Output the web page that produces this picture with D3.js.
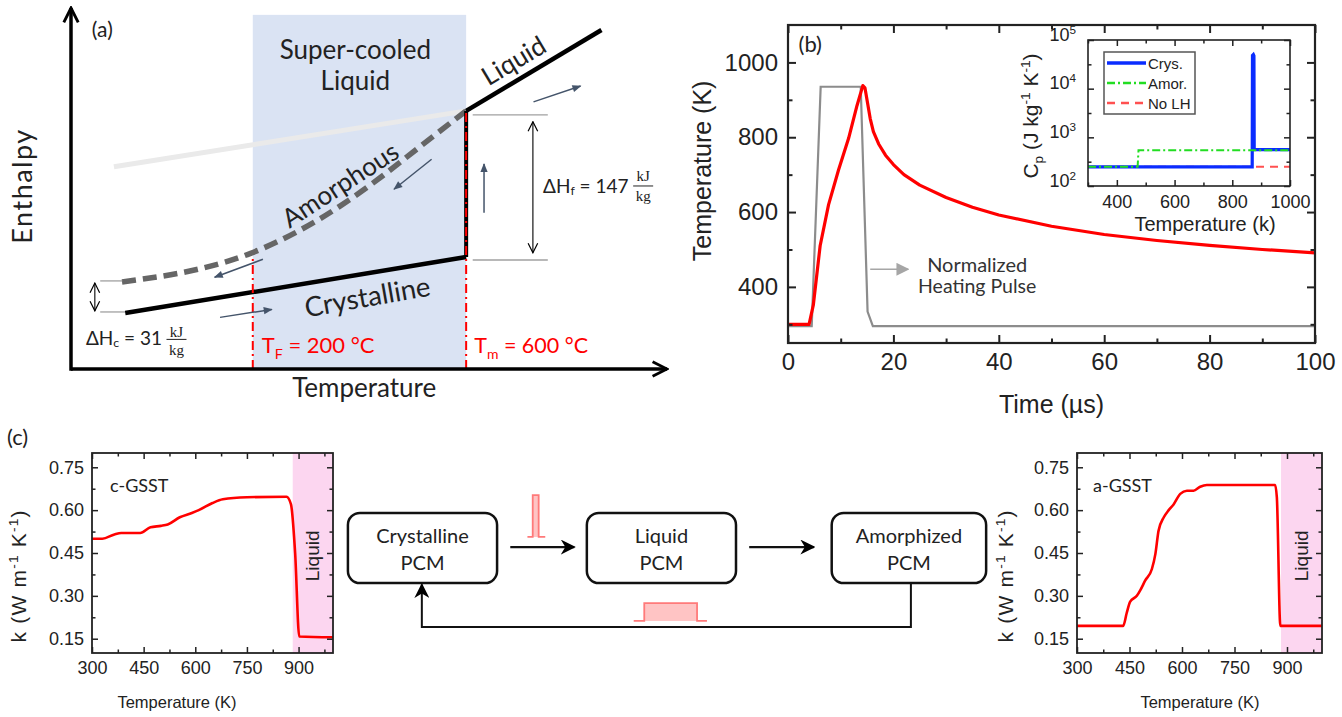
<!DOCTYPE html>
<html>
<head>
<meta charset="utf-8">
<script src="https://cdn.jsdelivr.net/npm/d3@7/dist/d3.min.js"></script>
<style>
  body { margin: 0; background: #fff; }
  svg { display: block; }
</style>
</head>
<body>
<svg id="fig" width="1342" height="717"></svg>
<script>
// ---- (a) schematic enthalpy curves, axis units 0-100 ----
const amorphT = [8.56, 14.93, 21.64, 30.03, 38.42, 45.13, 51.85, 58.56, 66.28];
const amorphH = [24.10, 25.62, 27.78, 31.97, 38.45, 45.12, 52.96, 61.61, 71.47];
const crystT = [9.1, 66.3];
const crystH = [15.5, 31.0];
const liquidT = [66.3, 89.0];
const liquidH = [71.5, 93.9];
const glassT = [7.2, 66.3];
const glassH = [56.0, 71.5];
const meltT = [66.3, 66.3];
const meltH = [31.0, 71.5];
const tFreeze = 30.5, tMelt = 66.3, shadeTop = 98.1;
// small direction arrows [t1, h1, t2, h2]
const flowArrows = [[60.5, 58.1, 54.2, 49.8], [32.2, 30.4, 24.1, 25.4], [25.0, 14.3, 33.7, 16.5],
  [69.3, 43.3, 69.3, 56.8], [77.6, 74.0, 85.5, 78.4]];

// ---- (b) temperature response (K) vs time (us) ----
const tempTime = [0, 4, 4.8, 6.1, 7.7, 9.6, 11.5, 13.1, 14.2, 14.6, 15.6, 16.2, 17.2, 18.5, 20, 22, 25, 30, 35, 40, 50, 60, 70, 80, 90, 100];
const tempK = [300, 300, 351, 510, 620, 713, 797, 885, 938, 932, 850, 815, 782, 752, 727, 700, 672, 639, 613, 592, 562, 540, 524, 511, 500, 491];
const pulseTime = [0, 4.5, 6.2, 13.8, 15.1, 16.1, 100];
const pulseK = [295, 295, 935, 935, 334, 295, 295];

// inset: heat capacity (J/kg/K) vs temperature (K)
const crysT = [300, 869, 870, 873, 875, 876, 1000];
const crysCp = [248, 248, 48000, 50000, 47000, 560, 560];
const amorT = [300, 472, 475, 1000];
const amorCp = [248, 248, 545, 545];
const noLhT = [300, 1000];
const noLhCp = [248, 248];
const insetLegend = ["Crys.", "Amor.", "No LH"];

// ---- (c) thermal conductivity (W/m/K) vs temperature (K) ----
const cTemp = [300, 330, 365, 385, 440, 470, 500, 520, 555, 590, 610, 650, 680, 750, 865, 878, 890, 902, 1000];
const cK = [0.50, 0.50, 0.515, 0.52, 0.52, 0.54, 0.545, 0.55, 0.575, 0.59, 0.60, 0.625, 0.638, 0.645, 0.647, 0.62, 0.45, 0.158, 0.155];
const aTemp = [300, 432, 442, 452, 471, 481, 495, 514, 524, 533, 548, 562, 576, 595, 614, 633, 652, 671, 866, 871, 881, 1000];
const aK = [0.195, 0.195, 0.24, 0.28, 0.30, 0.32, 0.354, 0.394, 0.447, 0.528, 0.575, 0.60, 0.62, 0.657, 0.668, 0.668, 0.682, 0.688, 0.688, 0.645, 0.195, 0.195];
const liquidFrom = 883;

// flow diagram
const stateNames = [["Crystalline", "PCM"], ["Liquid", "PCM"], ["Amorphized", "PCM"]];
const stateLeft = [1.2, 37.4, 74.5];
const stateRight = [23.8, 60.0, 97.9];

const svg = d3.select("#fig");
const ARIAL = "'Liberation Sans', Arial, sans-serif";
const CAL = "Lato, 'Open Sans', sans-serif";

const defs = svg.append("defs");
function marker(id, path, color, w, h, o = {}) {
  defs.append("marker").attr("id", id).attr("viewBox", "0 0 10 10")
    .attr("refX", o.refX ?? 9).attr("refY", 5)
    .attr("markerWidth", w).attr("markerHeight", h)
    .attr("markerUnits", "userSpaceOnUse")
    .attr("orient", o.orient || "auto")
    .append("path").attr("d", path)
    .attr("fill", o.open ? "none" : color)
    .attr("stroke", o.open ? color : "none")
    .attr("stroke-width", o.sw || 0);
}
marker("axisHead", "M1,1L9,5L1,9", "#000", 18, 18, { open: true, sw: 1.6 });
marker("dbl", "M1,1L9,5L1,9", "#000", 12, 12, { open: true, sw: 1.0, orient: "auto-start-reverse" });
marker("slate", "M0,1L10,5L0,9z", "#44546a", 11, 9);
marker("grayHead", "M0,0L10,5L0,10z", "#a6a6a6", 13, 13);
marker("flow", "M0,0L10,5L0,10L3,5z", "#000", 15, 15);

// text with sub/superscripts; parts = [[str, kind]], kind 1 sup, -1 sub
function rich(sel, parts, fs) {
  let shift = 0;
  parts.forEach(([t, k]) => {
    const target = k === 1 ? -0.38 * fs : k === -1 ? 0.25 * fs : 0;
    sel.append("tspan").attr("dy", target - shift).attr("font-size", k ? fs * 0.65 : fs).text(t);
    shift = target;
  });
  return sel;
}

// boxed frame with inward ticks on all four sides
function frame(g, x, y, o) {
  const [x0, x1] = x.range(), [y0, y1] = y.range();
  const col = "#222";
  const none = () => "";
  function ax(fn, tr, scale, vals, len, fmt) {
    const a = g.append("g").attr("transform", tr)
      .call(fn(scale).tickValues(vals).tickSize(-len).tickPadding(o.pad).tickFormat(fmt));
    a.select(".domain").remove();
    a.selectAll(".tick line").attr("stroke", col).attr("stroke-width", o.tw);
    a.selectAll(".tick text").attr("font-family", ARIAL).attr("font-size", o.fs).attr("fill", col);
    return a;
  }
  const bottom = ax(d3.axisBottom, `translate(0,${y0})`, x, o.xMajor, o.major, o.xFmt);
  ax(d3.axisBottom, `translate(0,${y0})`, x, o.xMinor, o.minor, none);
  ax(d3.axisTop, `translate(0,${y1})`, x, o.xMajor, o.major, none);
  ax(d3.axisTop, `translate(0,${y1})`, x, o.xMinor, o.minor, none);
  const left = ax(d3.axisLeft, `translate(${x0},0)`, y, o.yMajor, o.major, o.yFmt);
  ax(d3.axisLeft, `translate(${x0},0)`, y, o.yMinor, o.minor, none);
  ax(d3.axisRight, `translate(${x1},0)`, y, o.yMajor, o.major, none);
  ax(d3.axisRight, `translate(${x1},0)`, y, o.yMinor, o.minor, none);
  g.append("rect").attr("x", x0).attr("y", y1).attr("width", x1 - x0).attr("height", y0 - y1)
    .attr("fill", "none").attr("stroke", col).attr("stroke-width", o.sw);
  return { bottom, left };
}

// ================= panel (a) =================
const xA = d3.scaleLinear([0, 100], [71, 667]);
const yA = d3.scaleLinear([0, 100], [369, 8]);
const gA = svg.append("g");
const lineA = d3.line().x(d => xA(d[0])).y(d => yA(d[1]));

gA.append("rect").attr("x", xA(tFreeze)).attr("y", yA(shadeTop))
  .attr("width", xA(tMelt) - xA(tFreeze)).attr("height", yA(0) - yA(shadeTop))
  .attr("fill", "#dae3f3");

gA.append("path").attr("d", lineA(d3.zip(glassT, glassH)))
  .attr("stroke", "#eaeaea").attr("stroke-width", 5).attr("fill", "none");

gA.append("path").attr("d", d3.line().x(d => xA(d[0])).y(d => yA(d[1])).curve(d3.curveNatural)(d3.zip(amorphT, amorphH)))
  .attr("stroke", "#666").attr("stroke-width", 5.5).attr("stroke-dasharray", "14 7").attr("fill", "none");

// reference lines for the latent heats
[[67.4, 80.0, 70.4], [67.4, 80.0, 30.2], [4.9, 8.6, 24.4], [4.9, 9.1, 15.8]].forEach(r => {
  gA.append("line").attr("x1", xA(r[0])).attr("x2", xA(r[1])).attr("y1", yA(r[2])).attr("y2", yA(r[2]))
    .attr("stroke", "#a0a0a0").attr("stroke-width", 1.3);
});
[[77.5, 68.5, 32.2], [4.0, 23.8, 16.1]].forEach(r => {
  gA.append("line").attr("x1", xA(r[0])).attr("x2", xA(r[0])).attr("y1", yA(r[1])).attr("y2", yA(r[2]))
    .attr("stroke", "#000").attr("stroke-width", 1.1)
    .attr("marker-start", "url(#dbl)").attr("marker-end", "url(#dbl)");
});

gA.append("path").attr("d", lineA(d3.zip(crystT, crystH)))
  .attr("stroke", "#000").attr("stroke-width", 4.5).attr("fill", "none");
gA.append("path").attr("d", lineA(d3.zip(liquidT, liquidH)))
  .attr("stroke", "#000").attr("stroke-width", 4.5).attr("fill", "none");
gA.append("path").attr("d", lineA(d3.zip(meltT, meltH)))
  .attr("stroke", "#000").attr("stroke-width", 4).attr("fill", "none");

// transition temperatures
[[tFreeze, 31.2], [tMelt, 71.0]].forEach(([t, h]) => {
  gA.append("line").attr("x1", xA(t)).attr("x2", xA(t)).attr("y1", yA(0)).attr("y2", yA(h))
    .attr("stroke", "#ff0000").attr("stroke-width", 2).attr("stroke-dasharray", "9 4 2 4");
});

flowArrows.forEach(a => {
  gA.append("line").attr("x1", xA(a[0])).attr("y1", yA(a[1])).attr("x2", xA(a[2])).attr("y2", yA(a[3]))
    .attr("stroke", "#44546a").attr("stroke-width", 1.5).attr("marker-end", "url(#slate)");
});

// axes
gA.append("line").attr("x1", xA(0)).attr("y1", yA(0)).attr("x2", xA(100)).attr("y2", yA(0))
  .attr("stroke", "#000").attr("stroke-width", 3.5).attr("marker-end", "url(#axisHead)");
gA.append("line").attr("x1", xA(0)).attr("y1", yA(0) + 1.7).attr("x2", xA(0)).attr("y2", yA(100))
  .attr("stroke", "#000").attr("stroke-width", 3.5).attr("marker-end", "url(#axisHead)");

function txtA(t, h, s, fs, o = {}) {
  const el = gA.append("text").attr("font-family", o.family || CAL).attr("font-size", fs)
    .attr("fill", o.fill || "#222").attr("text-anchor", o.anchor || "start");
  if (o.rot !== undefined) {
    el.attr("transform", `translate(${xA(t)},${yA(h)}) rotate(${o.rot})`).attr("dominant-baseline", "central");
  } else {
    el.attr("x", xA(t)).attr("y", yA(h));
    if (o.central) el.attr("dominant-baseline", "central");
  }
  if (typeof s === "string") el.text(s); else rich(el, s, fs);
  return el;
}
txtA(3.5, 92.0, "(a)", 21);
txtA(47.7, 85.9, "Super-cooled", 26, { anchor: "middle" });
txtA(47.7, 77.3, "Liquid", 26, { anchor: "middle" });
txtA(74.2, 85.6, "Liquid", 26, { anchor: "middle", rot: -31 });
txtA(45.1, 51.2, "Amorphous", 26, { anchor: "middle", rot: -33 });
txtA(49.7, 20.2, "Crystalline", 27.5, { anchor: "middle", rot: -10 });
txtA(32.0, 4.35, [["T", 0], ["F", -1], [" = 200 °C", 0]], 22, { fill: "#ff0000" });
txtA(67.65, 4.35, [["T", 0], ["m", -1], [" = 600 °C", 0]], 21.5, { fill: "#ff0000" });
txtA(79.2, 51.0, [["ΔH", 0], ["f", -1], [" = 147", 0]], 19, { central: true });
txtA(2.5, 8.9, [["ΔH", 0], ["c", -1], [" = 31", 0]], 19, { central: true });
// kJ/kg fractions
[[96.0, 53.5, 50.7, 47.9], [17.7, 10.3, 8.2, 5.3]].forEach(f => {
  txtA(f[0], f[1], "kJ", 15, { anchor: "middle", central: true, family: "'Liberation Serif', serif" });
  txtA(f[0], f[3], "kg", 15, { anchor: "middle", central: true, family: "'Liberation Serif', serif" });
  gA.append("line").attr("x1", xA(f[0]) - 10).attr("x2", xA(f[0]) + 10).attr("y1", yA(f[2])).attr("y2", yA(f[2]))
    .attr("stroke", "#222").attr("stroke-width", 1);
});
gA.append("text").attr("transform", `translate(${xA(-6.5)},${yA(50.7)}) rotate(-90)`)
  .attr("text-anchor", "middle").attr("font-family", CAL).attr("font-size", 27)
  .attr("letter-spacing", 1.5).attr("fill", "#222").text("Enthalpy");
gA.append("text").attr("x", xA(49.2)).attr("y", yA(-7.8)).attr("text-anchor", "middle")
  .attr("font-family", CAL).attr("font-size", 26).attr("fill", "#222").text("Temperature");

// ================= panel (b) =================
const xB = d3.scaleLinear([0, 100], [788, 1315]);
const yB = d3.scaleLinear([250, 1100], [343, 25]);
const gB = svg.append("g");
const lineB = d3.line().x(d => xB(d[0])).y(d => yB(d[1]));
gB.append("path").attr("d", lineB(d3.zip(pulseTime, pulseK)))
  .attr("stroke", "#8c8c8c").attr("stroke-width", 2.2).attr("fill", "none");
gB.append("path").attr("d", lineB(d3.zip(tempTime, tempK)))
  .attr("stroke", "#ff0000").attr("stroke-width", 3.2).attr("fill", "none").attr("stroke-linejoin", "round");
frame(gB, xB, yB, {
  xMajor: d3.range(0, 101, 20), xMinor: d3.range(10, 100, 20),
  yMajor: [400, 600, 800, 1000], yMinor: [300, 500, 700, 900],
  xFmt: d3.format("d"), yFmt: d3.format("d"),
  major: 8, minor: 4.5, tw: 2, sw: 2.2, pad: 10, fs: 24
});
gB.append("text").attr("transform", `translate(711,${yB(710)}) rotate(-90)`)
  .attr("text-anchor", "middle").attr("font-family", ARIAL).attr("font-size", 25).attr("fill", "#222")
  .text("Temperature (K)");
gB.append("text").attr("x", xB(50)).attr("y", 413).attr("text-anchor", "middle")
  .attr("font-family", ARIAL).attr("font-size", 25).attr("fill", "#222").text("Time (µs)");
gB.append("text").attr("x", xB(2.0)).attr("y", 52).attr("font-family", CAL).attr("font-size", 22)
  .attr("fill", "#222").text("(b)");
gB.append("line").attr("x1", xB(15.6)).attr("x2", xB(22.8)).attr("y1", yB(447)).attr("y2", yB(447))
  .attr("stroke", "#a6a6a6").attr("stroke-width", 1.6).attr("marker-end", "url(#grayHead)");
gB.append("text").attr("x", xB(35.9)).attr("y", yB(440.6)).attr("text-anchor", "middle")
  .attr("font-family", CAL).attr("font-size", 20).attr("fill", "#333").text("Normalized");
gB.append("text").attr("x", xB(35.9)).attr("y", yB(382.8)).attr("text-anchor", "middle")
  .attr("font-family", CAL).attr("font-size", 19.5).attr("fill", "#333").text("Heating Pulse");

// inset
const xI = d3.scaleLinear([300, 1000], [1088, 1290]);
const yI = d3.scaleLog([100, 1e5], [186, 40]);
const gI = svg.append("g");
gI.append("rect").attr("x", 1088).attr("y", 40).attr("width", 202).attr("height", 146).attr("fill", "#fff");
const lineI = d3.line().x(d => xI(d[0])).y(d => yI(d[1]));
const insetSeries = [
  { t: noLhT, v: noLhCp, color: "#ff5050", w: 2, dash: "8 6" },
  { t: crysT, v: crysCp, color: "#0a2cff", w: 3.2, dash: null },
  { t: amorT, v: amorCp, color: "#22dd22", w: 2, dash: "8 3 2 3" }
];
insetSeries.forEach(s => {
  gI.append("path").attr("d", lineI(d3.zip(s.t, s.v))).attr("fill", "none")
    .attr("stroke", s.color).attr("stroke-width", s.w).attr("stroke-dasharray", s.dash);
});
const axI = frame(gI, xI, yI, {
  xMajor: [400, 600, 800, 1000], xMinor: [300, 500, 700, 900],
  yMajor: [100, 1000, 10000, 100000], yMinor: [316, 3162, 31623],
  xFmt: d3.format("d"), yFmt: () => "",
  major: 6, minor: 3.5, tw: 1.5, sw: 1.6, pad: 9, fs: 18
});
axI.left.selectAll(".tick text").each(function (d) {
  rich(d3.select(this), [["10", 0], [String(Math.round(Math.log10(d))), 1]], 18);
});
axI.left.selectAll(".tick text").attr("dx", -3);
gI.append("text").attr("x", 1205).attr("y", 231).attr("text-anchor", "middle")
  .attr("font-family", ARIAL).attr("font-size", 20).attr("fill", "#222").text("Temperature (k)");
rich(gI.append("text").attr("transform", `translate(1038,116) rotate(-90)`).attr("text-anchor", "middle")
  .attr("font-family", ARIAL).attr("fill", "#222"),
  [["C", 0], ["p", -1], [" (J kg", 0], ["-1", 1], [" K", 0], ["-1", 1], [")", 0]], 21);
// legend
const legY = d3.scalePoint(insetLegend, [63, 103]);
gI.append("rect").attr("x", 1104).attr("y", 52).attr("width", 91).attr("height", 62)
  .attr("fill", "#fff").attr("stroke", "#555").attr("stroke-width", 1.5);
const legStyle = [insetSeries[1], insetSeries[2], insetSeries[0]];
insetLegend.forEach((name, i) => {
  const s = legStyle[i];
  gI.append("line").attr("x1", 1107).attr("x2", 1146).attr("y1", legY(name)).attr("y2", legY(name))
    .attr("stroke", s.color).attr("stroke-width", s.w + 0.5).attr("stroke-dasharray", s.dash);
  gI.append("text").attr("x", 1148).attr("y", legY(name)).attr("dominant-baseline", "central")
    .attr("font-family", ARIAL).attr("font-size", 15).attr("fill", "#222").text(name);
});

// ================= panel (c) =================
const yC = d3.scaleLinear([0.1, 0.8], [653, 453]);
function kPanel(x0, x1, temps, ks, tag, tagX, labelX, titleX) {
  const x = d3.scaleLinear([300, 1000], [x0, x1]);
  const g = svg.append("g");
  g.append("rect").attr("x", x(liquidFrom)).attr("y", yC(0.8)).attr("width", x(1000) - x(liquidFrom))
    .attr("height", yC(0.1) - yC(0.8)).attr("fill", "#fcd6f0");
  g.append("path").attr("d", d3.line().x(d => x(d[0])).y(d => yC(d[1])).curve(d3.curveMonotoneX)(d3.zip(temps, ks)))
    .attr("fill", "none").attr("stroke", "#ff0000").attr("stroke-width", 2.6);
  frame(g, x, yC, {
    xMajor: [300, 450, 600, 750, 900], xMinor: [375, 525, 675, 825, 975],
    yMajor: [0.15, 0.30, 0.45, 0.60, 0.75], yMinor: [0.225, 0.375, 0.525, 0.675],
    xFmt: d3.format("d"), yFmt: d3.format(".2f"),
    major: 6, minor: 3.5, tw: 1.5, sw: 1.8, pad: 8, fs: 18
  });
  g.append("text").attr("x", tagX).attr("y", 492).attr("font-family", CAL).attr("font-size", 18)
    .attr("fill", "#222").text(tag);
  g.append("text").attr("transform", `translate(${(x(liquidFrom) + x(1000)) / 2 + 6},${yC(0.44)}) rotate(-90)`)
    .attr("text-anchor", "middle").attr("font-family", ARIAL).attr("font-size", 19).attr("fill", "#222").text("Liquid");
  g.append("text").attr("x", titleX).attr("y", 708).attr("text-anchor", "middle")
    .attr("font-family", ARIAL).attr("font-size", 16.5).attr("fill", "#222").text("Temperature (K)");
  rich(g.append("text").attr("transform", `translate(${labelX},${yC(0.37)}) rotate(-90)`).attr("text-anchor", "middle")
    .attr("font-family", ARIAL).attr("letter-spacing", 1.2).attr("fill", "#222"),
    [["k (W m", 0], ["-1", 1], [" K", 0], ["-1", 1], [")", 0]], 21);
}
kPanel(92, 333, cTemp, cK, "c-GSST", 110, 26, 177);
kPanel(1077, 1322, aTemp, aK, "a-GSST", 1093, 1013, 1200);
svg.append("text").attr("x", 7).attr("y", 445).attr("font-family", CAL).attr("font-size", 22)
  .attr("fill", "#222").text("(c)");

// flow diagram
const dx = d3.scaleLinear([0, 100], [340, 1000]);
const dy = d3.scaleLinear([0, 100], [480, 640]);
const gD = svg.append("g");
stateNames.forEach((lines, i) => {
  gD.append("rect").attr("x", dx(stateLeft[i])).attr("y", dy(20.6))
    .attr("width", dx(stateRight[i]) - dx(stateLeft[i])).attr("height", dy(64.4) - dy(20.6))
    .attr("rx", 12).attr("fill", "#fff").attr("stroke", "#111").attr("stroke-width", 2.5);
  const cx = (dx(stateLeft[i]) + dx(stateRight[i])) / 2;
  lines.forEach((s, j) => {
    gD.append("text").attr("x", cx).attr("y", dy(j ? 56.25 : 39.4)).attr("text-anchor", "middle")
      .attr("font-family", CAL).attr("font-size", 20).attr("fill", "#222").text(s);
  });
});
[[25.8, 35.5], [62.0, 71.8]].forEach(a => {
  gD.append("line").attr("x1", dx(a[0])).attr("x2", dx(a[1])).attr("y1", dy(41.9)).attr("y2", dy(41.9))
    .attr("stroke", "#111").attr("stroke-width", 2.2).attr("marker-end", "url(#flow)");
});
gD.append("path").attr("d", d3.line()([[dx(86.5), dy(64.4)], [dx(86.5), dy(91.9)], [dx(12.4), dy(91.9)], [dx(12.4), dy(64.4) + 1.5]]))
  .attr("fill", "none").attr("stroke", "#111").attr("stroke-width", 2).attr("marker-end", "url(#flow)");
// heating pulse icons [baseLeft, rectLeft, rectRight, baseRight, base, top]
[[28.4, 29.2, 30.1, 31.1, 35.6, 9.4], [44.5, 46.1, 54.1, 55.6, 88.1, 76.9]].forEach(p => {
  gD.append("rect").attr("x", dx(p[1])).attr("y", dy(p[5])).attr("width", dx(p[2]) - dx(p[1]))
    .attr("height", dy(p[4]) - dy(p[5])).attr("fill", "#ffc4c4");
  gD.append("path").attr("d", d3.line()([[dx(p[0]), dy(p[4])], [dx(p[1]), dy(p[4])], [dx(p[1]), dy(p[5])],
    [dx(p[2]), dy(p[5])], [dx(p[2]), dy(p[4])], [dx(p[3]), dy(p[4])]]))
    .attr("fill", "none").attr("stroke", "#ff7a7a").attr("stroke-width", 1.8);
});
</script>
</body>
</html>
